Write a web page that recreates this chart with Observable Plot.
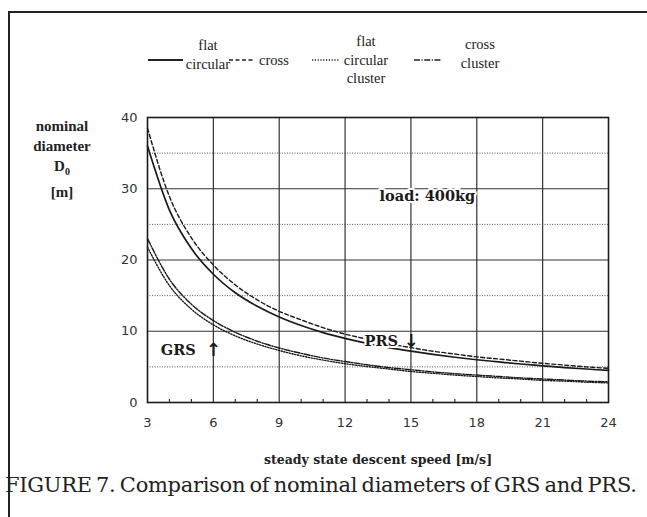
<!DOCTYPE html>
<html>
<head>
<meta charset="utf-8">
<script src="https://cdn.jsdelivr.net/npm/d3@7"></script>
<script src="https://cdn.jsdelivr.net/npm/@observablehq/plot@0.6"></script>
<style>
  html, body { margin: 0; padding: 0; background: #fff; }
  #fig { position: relative; width: 647px; height: 517px; overflow: hidden; background: #fff; }
  #border { position: absolute; left: 8px; top: 11px; width: 660px; height: 520px;
            border-left: 2px solid #222; border-top: 2px solid #222; }
  .leg { position: absolute; font-family: "Liberation Serif", serif; font-size: 14.5px; color: #222;
         text-align: center; line-height: 18.5px; }
  .sw { position: absolute; }
  #ylab { position: absolute; left: 22px; top: 116px; width: 80px; text-align: center;
          font-family: "Liberation Serif", serif; font-weight: bold; font-size: 15px; line-height: 20px; color: #222; }
  #caption { position: absolute; left: 5px; top: 473px; font-family: "DejaVu Serif", serif;
             font-size: 21px; color: #222; white-space: nowrap; letter-spacing: -0.3px; word-spacing: -2px; }
  #plot { position: absolute; left: 0; top: 95px; }
</style>
</head>
<body>
<div id="fig">
  <div id="border"></div>
  <div id="legend"></div>
  <div id="ylab">nominal<br>diameter<br>D<sub style="font-size:10px">0</sub><br>[m]</div>
  <div id="plot"></div>
  <div id="caption">FIGURE 7. Comparison of nominal diameters of GRS and PRS.</div>
</div>
<script>
// ---- data ----
const speed = [3, 4, 5, 6, 7, 8, 9, 10, 11, 12, 13, 14, 15, 16, 17, 18, 19, 20, 21, 22, 23, 24];
const flatCircular = [36.0, 27.0, 21.6, 18.0, 15.4, 13.5, 12.0, 10.8, 9.8, 9.0, 8.3, 7.7, 7.2, 6.75, 6.35, 6.0, 5.7, 5.4, 5.15, 4.9, 4.7, 4.5];
const cross = [38.5, 28.9, 23.1, 19.3, 16.5, 14.4, 12.8, 11.6, 10.5, 9.6, 8.9, 8.25, 7.7, 7.2, 6.8, 6.4, 6.1, 5.8, 5.5, 5.25, 5.0, 4.8];
const flatCircularCluster = [21.8, 16.4, 13.1, 10.9, 9.35, 8.2, 7.3, 6.55, 5.95, 5.45, 5.05, 4.7, 4.35, 4.1, 3.85, 3.65, 3.45, 3.3, 3.1, 3.0, 2.85, 2.75];
const crossCluster = [23.0, 17.3, 13.8, 11.5, 9.85, 8.6, 7.65, 6.9, 6.25, 5.75, 5.3, 4.9, 4.6, 4.3, 4.05, 3.85, 3.65, 3.45, 3.3, 3.15, 3.0, 2.9];

const seriesNames = ["flat circular", "cross", "flat circular cluster", "cross cluster"];
const seriesValues = [flatCircular, cross, flatCircularCluster, crossCluster];
const seriesDash = ["none", "4,2.5", "1.2,1.6", "6,1.5,1.2,1.5"];

const xTicks = [3, 6, 9, 12, 15, 18, 21, 24];
const xMinorTicks = [4, 5, 7, 8, 10, 11, 13, 14, 16, 17, 19, 20, 22, 23];
const yTicks = [0, 10, 20, 30, 40];
const ySolidGrid = [10, 20, 30];
const yDottedGrid = [5, 15, 25, 35];
const xGrid = [6, 9, 12, 15, 18, 21];

const annotations = [
  {x: 15.75, y: 29.0, text: "load: 400kg"},
  {x: 13.65, y: 8.6, text: "PRS"},
  {x: 4.4, y: 7.3, text: "GRS"}
];
const arrows = [
  {x: 15, y: 8.6, text: "↓"},
  {x: 6, y: 7.4, text: "↑"}
];

// ---- legend (HTML) ----
const legend = document.getElementById("legend");
const legItems = [
  {sw: [148, 183], label: "flat<br>circular", cx: 208, top: 36},
  {sw: [229, 253], label: "cross", cx: 274, top: 51},
  {sw: [312, 339], label: "flat<br>circular<br>cluster", cx: 366, top: 32},
  {sw: [414, 442], label: "cross<br>cluster", cx: 480, top: 35}
];
legItems.forEach((it, i) => {
  const sw = document.createElementNS("http://www.w3.org/2000/svg", "svg");
  sw.setAttribute("class", "sw");
  sw.setAttribute("width", it.sw[1] - it.sw[0]);
  sw.setAttribute("height", 6);
  sw.style.left = it.sw[0] + "px";
  sw.style.top = "57px";
  const ln = document.createElementNS("http://www.w3.org/2000/svg", "line");
  ln.setAttribute("x1", 0); ln.setAttribute("x2", it.sw[1] - it.sw[0]);
  ln.setAttribute("y1", 3); ln.setAttribute("y2", 3);
  ln.setAttribute("stroke", "#222");
  ln.setAttribute("stroke-width", i === 0 ? 2 : 1.4);
  if (seriesDash[i] !== "none") ln.setAttribute("stroke-dasharray", seriesDash[i]);
  sw.appendChild(ln);
  legend.appendChild(sw);
  const t = document.createElement("div");
  t.className = "leg";
  t.innerHTML = it.label;
  t.style.left = (it.cx - 40) + "px";
  t.style.width = "80px";
  t.style.top = it.top + "px";
  legend.appendChild(t);
});

// ---- chart ----
const lineMarks = seriesNames.map((name, i) =>
  Plot.line(speed.map((s, j) => ({speed: s, d: seriesValues[i][j], series: name})), {
    x: "speed", y: "d", curve: "monotone-x", stroke: "#1a1a1a",
    strokeWidth: i === 0 ? 1.7 : 1.4,
    strokeDasharray: seriesDash[i] === "none" ? null : seriesDash[i]
  })
);

const chart = Plot.plot({
  width: 647,
  height: 380,
  marginLeft: 147,
  marginRight: 39,
  marginTop: 22,
  marginBottom: 73,
  style: {background: "transparent", color: "#222"},
  x: {domain: [3, 24]},
  y: {domain: [0, 40]},
  marks: [
    Plot.ruleY(ySolidGrid, {stroke: "#333", strokeWidth: 1.2}),
    Plot.ruleY(yDottedGrid, {stroke: "#555", strokeWidth: 1, strokeDasharray: "1,1.5"}),
    Plot.ruleX(xGrid, {stroke: "#333", strokeWidth: 1.2}),
    Plot.ruleX(xMinorTicks, {y1: 0, y2: 0, insetTop: -3, stroke: "#333", strokeWidth: 1.2}),
    Plot.frame({stroke: "#1a1a1a", strokeWidth: 1.6}),
    ...lineMarks,
    Plot.axisX({ticks: xTicks, tickSize: 0, tickPadding: 15, label: null,
      fontFamily: "DejaVu Sans, sans-serif", fontSize: 13, fill: "#333"}),
    Plot.axisY({ticks: yTicks, tickSize: 0, tickPadding: 10, label: null,
      fontFamily: "DejaVu Sans, sans-serif", fontSize: 13, fill: "#333"}),
    Plot.text(["steady state descent speed [m/s]"], {frameAnchor: "bottom", dy: 61,
      fontFamily: "DejaVu Serif, serif", fontWeight: "bold", fontSize: 12.5, fill: "#222"}),
    Plot.text(annotations, {x: "x", y: "y", text: "text", fontFamily: "DejaVu Serif, serif",
      fontWeight: "bold", fontSize: 14.5, fill: "#1a1a1a", stroke: "white", strokeWidth: 4, paintOrder: "stroke"}),
    Plot.text(arrows, {x: "x", y: "y", text: "text", fontFamily: "DejaVu Sans, sans-serif",
      fontWeight: "bold", fontSize: 18, fill: "#1a1a1a"})
  ]
});
document.getElementById("plot").appendChild(chart);
</script>
</body>
</html>
